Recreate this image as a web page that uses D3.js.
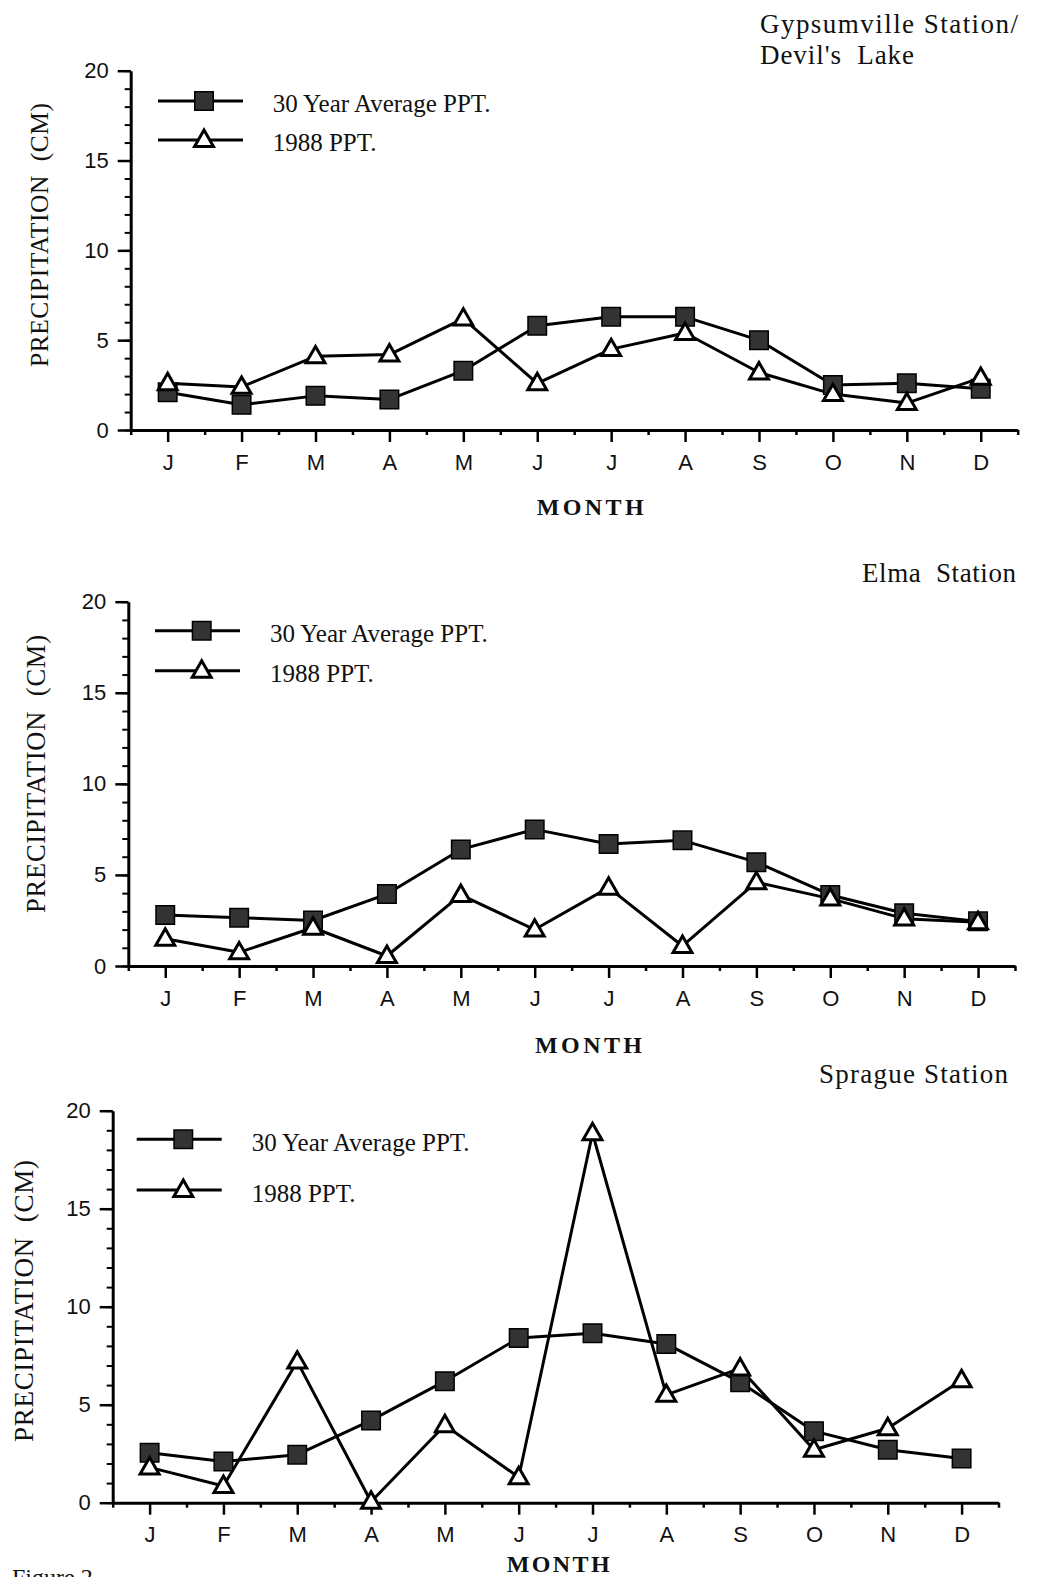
<!DOCTYPE html>
<html>
<head>
<meta charset="utf-8">
<script src="https://cdn.jsdelivr.net/npm/d3@7"></script>
<style>
  html, body { margin: 0; padding: 0; background: #fff; }
  svg { display: block; }
  text { white-space: pre; }
</style>
</head>
<body>
<svg id="chart" width="1037" height="1577"></svg>
<script>
// ---- Data ----
const months = ["J", "F", "M", "A", "M", "J", "J", "A", "S", "O", "N", "D"];
const yTickValues = [0, 5, 10, 15, 20];
const legendLabels = ["30 Year Average PPT.", "1988 PPT."];

const gypsumvilleAvg  = [2.1, 1.4, 1.9, 1.7, 3.3, 5.8, 6.3, 6.3, 5.0, 2.5, 2.6, 2.3];
const gypsumville1988 = [2.6, 2.4, 4.1, 4.2, 6.2, 2.6, 4.5, 5.4, 3.2, 2.0, 1.5, 2.9];

const elmaAvg  = [2.8, 2.65, 2.5, 3.95, 6.4, 7.5, 6.7, 6.9, 5.7, 3.9, 2.9, 2.45];
const elma1988 = [1.5, 0.75, 2.1, 0.55, 3.9, 2.0, 4.3, 1.1, 4.6, 3.7, 2.6, 2.4];

const spragueAvg  = [2.55, 2.1, 2.45, 4.2, 6.2, 8.4, 8.65, 8.1, 6.15, 3.65, 2.7, 2.25];
const sprague1988 = [1.8, 0.85, 7.2, 0.05, 3.95, 1.3, 18.85, 5.5, 6.85, 2.7, 3.8, 6.25];

// ---- Layout (per panel) ----
const panels = [
  {
    avg: gypsumvilleAvg, y1988: gypsumville1988,
    left: 130.7, right: 1017.7, top: 70.7, bottom: 430,
    titles: [{t: "Gypsumville Station/", x: 760, y: 33, anchor: "start", len: 258},
             {t: "Devil's  Lake", x: 760, y: 64, anchor: "start", len: 154}],
    yTitle: {x: 48, y: 235, len: 264, fs: 25.5},
    month: {x: 536.7, y: 515, len: 107},
    legend: {x1: 158, x2: 243, mx: 204, rows: [101, 140], tx: 272.7, tdy: 11}
  },
  {
    avg: elmaAvg, y1988: elma1988,
    left: 128.3, right: 1015, top: 601.7, bottom: 966,
    titles: [{t: "Elma  Station", x: 1016, y: 582, anchor: "end", len: 154}],
    yTitle: {x: 45, y: 774, len: 278, fs: 26.5},
    month: {x: 535, y: 1053, len: 107},
    legend: {x1: 155, x2: 240, mx: 201.7, rows: [630.7, 670.7], tx: 270, tdy: 11}
  },
  {
    avg: spragueAvg, y1988: sprague1988,
    left: 112.7, right: 998.5, top: 1110.7, bottom: 1502.7,
    titles: [{t: "Sprague Station", x: 1008, y: 1082.5, anchor: "end", len: 189}],
    yTitle: {x: 33, y: 1301, len: 282, fs: 27},
    month: {x: 506.7, y: 1572, len: 103},
    legend: {x1: 136.7, x2: 221.7, mx: 183.3, rows: [1139.3, 1190], tx: 251.7, tdy: 11.5}
  }
];

const svg = d3.select("#chart");
const serif = "'Liberation Serif', 'Times New Roman', serif";
const sans = "'Liberation Sans', Arial, Helvetica, sans-serif";

const sq = d3.symbol().type(d3.symbolSquare).size(18.5 * 18.5);
const tri = d3.symbol().type(d3.symbolTriangle).size(155);

function drawSquare(g, x, y) {
  g.append("path").attr("d", sq()).attr("transform", `translate(${x},${y})`)
    .attr("fill", "#333").attr("stroke", "#000").attr("stroke-width", 1.5);
}
function drawTriangle(g, x, y) {
  g.append("path").attr("d", tri()).attr("transform", `translate(${x},${y})`)
    .attr("fill", "#fff").attr("stroke", "#000").attr("stroke-width", 3)
    .attr("stroke-linejoin", "miter");
}

panels.forEach(p => {
  const g = svg.append("g");
  const x = d3.scaleLinear().domain([-0.5, 11.5]).range([p.left, p.right]);
  const y = d3.scaleLinear().domain([0, 20]).range([p.bottom, p.top]);

  // minor y ticks
  g.append("g").attr("transform", `translate(${p.left},0)`)
    .call(d3.axisLeft(y).tickValues(d3.range(0, 21)).tickSize(6).tickSizeOuter(0).tickFormat(""))
    .call(a => a.select(".domain").remove())
    .call(a => a.selectAll("line").attr("stroke", "#000").attr("stroke-width", 2));
  // major y ticks + labels
  g.append("g").attr("transform", `translate(${p.left},0)`)
    .call(d3.axisLeft(y).tickValues(yTickValues).tickSize(13).tickSizeOuter(0).tickPadding(9))
    .call(a => a.select(".domain").attr("stroke", "#000").attr("stroke-width", 3))
    .call(a => a.selectAll("line").attr("stroke", "#000").attr("stroke-width", 2.5))
    .call(a => a.selectAll("text").attr("font-family", sans).attr("font-size", 22).attr("fill", "#111"));

  // minor x ticks (half-month positions)
  g.append("g").attr("transform", `translate(0,${p.bottom})`)
    .call(d3.axisBottom(x).tickValues(d3.range(-0.5, 12, 1)).tickSize(5).tickSizeOuter(0).tickFormat(""))
    .call(a => a.select(".domain").remove())
    .call(a => a.selectAll("line").attr("stroke", "#000").attr("stroke-width", 2.5));
  // month ticks + labels
  g.append("g").attr("transform", `translate(0,${p.bottom})`)
    .call(d3.axisBottom(x).tickValues(d3.range(12)).tickSize(12).tickSizeOuter(0).tickPadding(12)
      .tickFormat(i => months[i]))
    .call(a => a.select(".domain").attr("stroke", "#000").attr("stroke-width", 3))
    .call(a => a.selectAll("line").attr("stroke", "#000").attr("stroke-width", 2.5))
    .call(a => a.selectAll("text").attr("font-family", sans).attr("font-size", 22).attr("fill", "#111"));

  // lines
  const line = d3.line().x((d, i) => x(i)).y(d => y(d));
  g.append("path").datum(p.avg).attr("d", line).attr("fill", "none")
    .attr("stroke", "#000").attr("stroke-width", 3).attr("stroke-linejoin", "round");
  g.append("path").datum(p.y1988).attr("d", line).attr("fill", "none")
    .attr("stroke", "#000").attr("stroke-width", 3).attr("stroke-linejoin", "round");

  p.avg.forEach((v, i) => drawSquare(g, x(i), y(v)));
  p.y1988.forEach((v, i) => drawTriangle(g, x(i), y(v) + 1));

  // legend
  const L = p.legend;
  L.rows.forEach((ry, k) => {
    g.append("line").attr("x1", L.x1).attr("x2", L.x2).attr("y1", ry).attr("y2", ry)
      .attr("stroke", "#000").attr("stroke-width", 3);
    if (k === 0) drawSquare(g, L.mx, ry); else drawTriangle(g, L.mx, ry + 1);
    g.append("text").attr("x", L.tx).attr("y", ry + L.tdy)
      .attr("font-family", serif).attr("font-size", 25).attr("fill", "#111")
      .text(legendLabels[k]);
  });

  // station titles
  p.titles.forEach(t => {
    g.append("text").attr("x", t.x).attr("y", t.y).attr("text-anchor", t.anchor)
      .attr("font-family", serif).attr("font-size", 27).attr("fill", "#111")
      .attr("textLength", t.len).attr("lengthAdjust", "spacing")
      .text(t.t);
  });

  // y title
  g.append("text").attr("transform", `translate(${p.yTitle.x},${p.yTitle.y}) rotate(-90)`)
    .attr("text-anchor", "middle").attr("font-family", serif).attr("font-size", p.yTitle.fs)
    .attr("fill", "#111").attr("textLength", p.yTitle.len).attr("lengthAdjust", "spacing")
    .text("PRECIPITATION  (CM)");

  // x title
  g.append("text").attr("x", p.month.x).attr("y", p.month.y)
    .attr("font-family", serif).attr("font-size", 24).attr("font-weight", "bold")
    .attr("fill", "#111").attr("textLength", p.month.len).attr("lengthAdjust", "spacing")
    .text("MONTH");
});

svg.append("text").attr("x", 12).attr("y", 1585)
  .attr("font-family", serif).attr("font-size", 24).attr("fill", "#111")
  .text("Figure 2");
</script>
</body>
</html>
